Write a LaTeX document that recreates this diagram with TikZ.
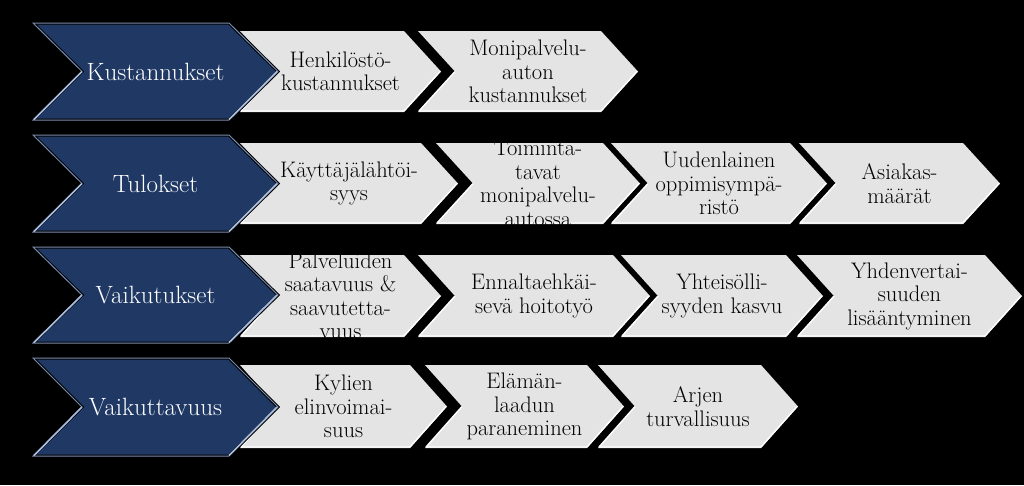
\documentclass[tikz,border=0pt]{standalone}
\usepackage{tikz}
\definecolor{navy}{HTML}{1F3864}
\definecolor{navyedge}{HTML}{7A8BAC}
\definecolor{navyhi}{HTML}{A9BCDD}
\definecolor{lgray}{HTML}{E4E4E4}
\tikzset{
  bluetext/.style={text=white, font=\fontsize{25}{29}\selectfont, align=center, inner sep=0pt},
  graytext/.style={text=black, font=\fontsize{22.5}{23.5}\selectfont, align=center, inner sep=0pt},
  bevel/.style={white, line width=1.4pt},
  bluebevel/.style={navyhi, line width=1.6pt},
}
% gray chevron: left, right, top, bottom
\newcommand{\graychev}[4]{%
  \pgfmathsetmacro\gM{(#3+#4)/2}%
  \fill[lgray] (#1,#3) -- ({#2-37},#3) -- (#2,\gM) -- ({#2-37},#4) -- (#1,#4) -- ({#1+37},\gM) -- cycle;
  \draw[bevel] ({#1+37},\gM) -- ({#1+1},{#4-1});
  \draw[bevel] ({#2-1},\gM) -- ({#2-37},{#4-1}) -- ({#1+1},{#4-1});
}
% blue chevron: top, bottom
\newcommand{\bluechev}[2]{%
  \pgfmathsetmacro\bM{(#1+#2)/2}%
  \draw[black, line width=3pt, fill=navy] (33,#1) -- (229,#1) -- (278,\bM) -- (229,#2) -- (33,#2) -- (82,\bM) -- cycle;
  \draw[navyedge, line width=1pt] (33,#1) -- (229,#1) -- (278,\bM) -- (229,#2) -- (33,#2) -- (82,\bM) -- cycle;
  \draw[bluebevel] (82,\bM) -- (34,{#2-0.5});
  \draw[bluebevel] (277,\bM) -- (229,{#2-0.5});
}
\begin{document}
\begin{tikzpicture}[x=1pt,y=-1pt]
\fill[black] (0,0) rectangle (1024,485);
\useasboundingbox (0,0) rectangle (1024,485);

% Row 1
\graychev{418}{638}{31}{112}
\graychev{240}{441}{31}{112}
\bluechev{23}{120}
\node[bluetext] (b1) at (155.5,71.5) {Kustannukset};
\node[graytext] (g11) at (340.5,71.5) {Henkilöstö-\\kustannukset};
\node[graytext] (g12) at (528,71.5) {Monipalvelu-\\auton\\kustannukset};

% Row 2
\graychev{799}{1000}{143}{224}
\graychev{611}{827}{143}{224}
\graychev{436}{640}{143}{224}
\graychev{240}{458}{143}{224}
\bluechev{135}{232}
\node[bluetext] (b2) at (155.5,183.5) {Tulokset};
\node[graytext] (g21) at (349,183.5) {Käyttäjälähtöi-\\syys};
\node[graytext] (g22) at (538,183.5) {Toiminta-\\tavat\\monipalvelu-\\autossa};
\node[graytext] (g23) at (719,183.5) {Uudenlainen\\oppimisympä-\\ristö};
\node[graytext] (g24) at (899.5,183.5) {Asiakas-\\määrät};

% Row 3
\graychev{797}{1022}{255}{337}
\graychev{621}{823}{255}{337}
\graychev{418}{650}{255}{337}
\graychev{240}{441}{255}{337}
\bluechev{247}{343}
\node[bluetext] (b3) at (155.5,295) {Vaikutukset};
\node[graytext] (g31) at (340.5,296) {Palveluiden\\saatavuus \&\\saavutetta-\\vuus};
\node[graytext] (g32) at (534,296) {Ennaltaehkäi-\\sevä hoitotyö};
\node[graytext] (g33) at (722,296) {Yhteisölli-\\syyden kasvu};
\node[graytext] (g34) at (909.5,296) {Yhdenvertai-\\suuden\\lisääntyminen};

% Row 4
\graychev{598}{798}{365}{448}
\graychev{425}{624}{365}{448}
\graychev{240}{447}{365}{448}
\bluechev{358}{456}
\node[bluetext] (b4) at (155.5,407) {Vaikuttavuus};
\node[graytext] (g41) at (343.5,406.5) {Kylien\\elinvoimai-\\suus};
\node[graytext] (g42) at (524.5,406.5) {Elämän-\\laadun\\paraneminen};
\node[graytext] (g43) at (698,406.5) {Arjen\\turvallisuus};
\end{tikzpicture}
\end{document}
